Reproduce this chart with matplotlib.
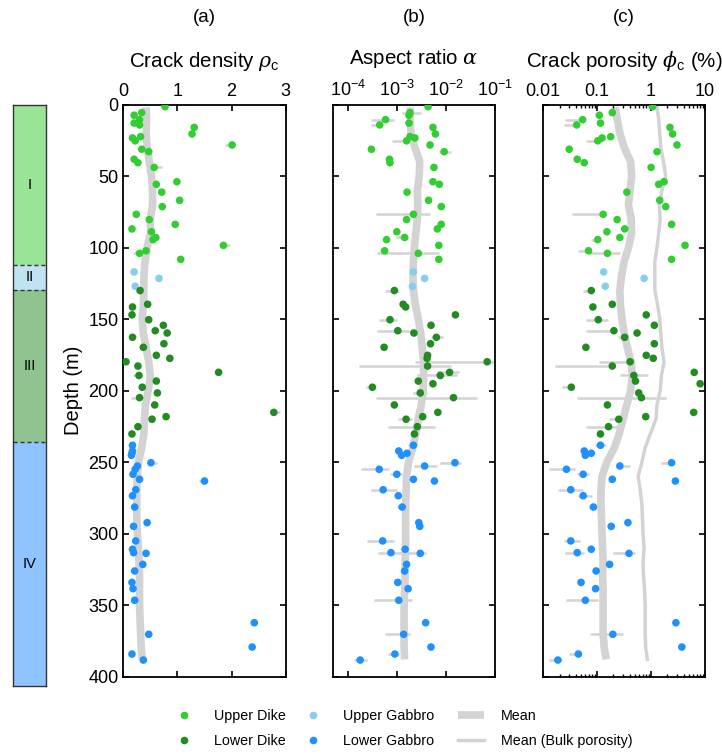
import numpy as np
import matplotlib
matplotlib.use('Agg')
import matplotlib.pyplot as plt
from matplotlib.ticker import FuncFormatter, LogFormatterSciNotation
from matplotlib.lines import Line2D

plt.rcParams['font.family'] = ['Liberation Sans', 'DejaVu Sans']
plt.rcParams['mathtext.fontset'] = 'custom'
plt.rcParams['mathtext.rm'] = 'Liberation Sans'
plt.rcParams['mathtext.sf'] = 'Liberation Sans'
plt.rcParams['mathtext.it'] = 'DejaVu Serif:italic'

# ---- samples (depth in m, unit, crack density, log10 aspect ratio, log10 crack porosity %)
depth = [1.5, 5.7, 7.5, 10.6, 13.0, 14.3, 16.0, 20.6, 22.5, 23.4, 25.4, 28.3, 31.3, 33.0,
         38.3, 40.7, 44.0, 54.0, 55.8, 61.3, 67.0, 71.4, 76.8, 80.5, 83.8, 87.0, 89.0, 93.0,
         94.5, 98.5, 102.3, 104.1, 108.3,
         117.1, 121.6, 127.1,
         130.1, 139.7, 141.6, 147.1, 150.5, 154.4, 158.2, 159.8, 162.8, 167.3, 169.8, 175.4,
         177.5, 179.9, 182.9, 187.3, 189.5, 193.4, 195.3, 197.7, 201.7, 205.0, 210.1, 215.3,
         218.3, 220.1, 225.3, 230.4,
         238.3, 242.3, 243.9, 245.3, 250.5, 252.8, 255.1, 258.6, 262.1, 263.3, 269.4, 273.6,
         281.5, 292.4, 295.0, 305.2, 311.0, 313.4, 313.9, 321.6, 326.2, 334.2, 338.6, 346.7,
         362.4, 370.5, 379.4, 384.3, 388.5]
unit = (['Upper Dike'] * 33 + ['Upper Gabbro'] * 3 + ['Lower Dike'] * 28
        + ['Lower Gabbro'] * 29)
rho = [0.77, 0.34, 0.20, 0.30, 0.20, 0.30, 1.31, 1.27, 0.32, 0.17, 0.22, 2.01, 0.34, 0.47,
       0.20, 0.27, 0.57, 0.99, 0.61, 0.71, 1.04, 0.72, 0.24, 0.48, 0.96, 0.16, 0.52, 0.60,
       0.55, 1.85, 0.42, 0.30, 1.06,
       0.20, 0.66, 0.22,
       0.31, 0.45, 0.17, 0.16, 0.47, 0.74, 0.59, 0.81, 0.17, 0.75, 0.37, 0.61,
       0.86, 0.05, 0.27, 1.76, 0.29, 0.61, np.nan, 0.35, 0.63, 0.30, 0.58, 2.78,
       0.79, 0.53, 0.27, 0.16,
       0.17, 0.17, 0.16, 0.15, 0.51, 0.26, 0.22, 0.18, 0.30, 1.50, 0.23, 0.17,
       0.21, 0.44, 0.19, 0.23, 0.17, 0.19, 0.42, 0.36, 0.21, 0.16, 0.18, 0.21,
       2.42, 0.47, 2.38, 0.16, 0.37]
log_alpha = [-2.37, -2.74, -2.76, -3.24, -2.76, -3.36, -2.27, -2.22, -2.74, -2.64, -2.81,
             -2.33, -3.53, -2.04, -3.16, -3.15, -2.25, -2.27, -2.14, -2.80, -2.36, -2.10,
             -2.67, -2.81, -2.10, -2.18, -3.01, -2.85, -3.22, -2.15, -3.26, -2.57, -2.15,
             -2.67, -2.44, -2.69,
             -3.06, -2.88, -2.83, -1.81, -3.15, -2.31, -2.99, -2.66, -2.20, -2.32, -3.27,
             -2.38, -2.39, -1.16, -2.38, -1.93, -2.12, -2.57, -2.27, -3.51, -2.53, -1.85,
             -3.06, -2.17, -2.48, -2.82, -2.59, -2.65,
             -2.67, -2.97, -2.80, -2.91, -1.82, -2.44, -3.37, -3.01, -2.67, -2.24, -3.29,
             -2.98, -2.90, -2.56, -2.54, -3.30, -2.84, -3.13, -2.53, -2.81, -2.85, -2.99,
             -2.78, -2.97, -2.42, -2.87, -2.31, -3.05, -3.76]
log_phi = [0.03, -0.72, -0.96, -1.27, -0.94, -1.38, 0.35, 0.40, -0.75, -0.91, -0.99, 0.48,
           -1.52, 0.11, -1.37, -1.24, 0.00, 0.24, 0.14, -0.45, 0.16, 0.27, -0.89, -0.63,
           0.38, -0.49, -0.82, -0.58, -0.99, 0.63, -1.16, -0.81, 0.38,
           -0.88, -0.13, -0.85,
           -1.11, -0.72, -1.08, -0.09, -0.98, 0.06, -0.69, -0.26, -0.49, 0.06, -1.21,
           -0.09, 0.04, -0.39, -0.72, 0.80, -0.32, -0.29, 0.91, -1.48, -0.23, -0.18,
           -0.81, 0.79, -0.10, -0.60, -0.79, -0.94,
           -0.94, -1.24, -1.11, -1.22, 0.38, -0.58, -1.57, -1.26, -0.72, 0.45, -1.49,
           -1.26, -1.07, -0.43, -0.74, -1.49, -1.11, -1.37, -0.41, -0.77, -1.02, -1.30,
           -1.03, -1.22, 0.46, -0.71, 0.57, -1.35, -1.73]

# ---- error ranges (sample number, low, high)
err_rho_id = [12, 17, 30, 32, 53, 58, 60, 69, 74]
err_rho_lo = [1.87, 0.55, 1.78, 0.17, 0.17, 0.15, 2.72, 0.51, 1.40]
err_rho_hi = [2.05, 0.72, 1.98, 0.30, 0.29, 0.30, 2.90, 0.62, 1.50]

err_alpha_id = [2, 4, 6, 11, 14, 23, 28, 32, 37, 41, 43, 45, 50, 51, 52, 53, 56, 57, 58,
                62, 63, 65, 69, 70, 71, 72, 75, 77, 80, 82, 88, 90, 92, 93]
err_alpha_lo = [-2.90, -3.54, -3.54, -3.10, -2.15, -3.44, -3.03, -3.41, -3.26, -3.38,
                -3.42, -2.32, -2.63, -3.78, -2.18, -2.59, -3.65, -2.67, -3.44, -2.99,
                -3.20, -2.78, -2.13, -2.66, -3.75, -3.14, -3.54, -3.01, -3.61, -3.40,
                -3.48, -3.25, -3.20, -3.89]
err_alpha_hi = [-2.52, -3.07, -3.36, -2.69, -1.91, -2.33, -2.78, -2.15, -2.97, -3.00,
                -2.69, -2.06, -0.99, -1.91, -1.74, -1.78, -3.51, -2.39, -1.36, -2.69,
                -2.22, -2.59, -1.69, -2.18, -3.17, -2.90, -3.01, -2.83, -3.06, -2.42,
                -2.69, -2.73, -2.97, -3.61]

err_phi_id = [4, 6, 11, 23, 29, 31, 32, 37, 41, 43, 45, 50, 51, 53, 56, 58, 62, 63, 65,
              69, 70, 71, 72, 75, 76, 77, 80, 82, 83, 88, 90, 92, 93]
err_phi_lo = [-1.59, -1.62, -1.21, -1.47, -1.11, -1.35, -1.16, -1.27, -1.20, -1.20, -0.61,
              -0.97, -1.79, -0.57, -1.65, -1.38, -0.78, -1.21, -1.05, 0.18, -0.65, -1.89,
              -1.38, -1.72, -1.35, -1.16, -1.62, -1.59, -0.71, -1.57, -1.13, -1.52, -1.89]
err_phi_hi = [-1.27, -1.38, -0.92, -0.89, -0.96, -1.16, -0.58, -1.11, -0.80, -0.69, -0.49,
              -0.39, -0.72, -0.05, -1.48, 0.27, -0.60, -0.52, -0.83, 0.38, -0.40, -1.41,
              -1.16, -1.27, -1.09, -1.02, -1.32, -1.24, -0.30, -0.99, -0.52, -1.30, -1.65]

# ---- running means
mean_depth = [2, 10, 20, 30, 40, 50, 60, 70, 80, 90, 100, 110, 120, 130, 140, 150, 160, 170,
              180, 190, 200, 210, 220, 230, 240, 250, 260, 270, 280, 290, 300, 310, 320, 330,
              340, 350, 360, 370, 380, 388]
rho_mean = [0.42, 0.43, 0.42, 0.44, 0.48, 0.52, 0.54, 0.54, 0.50, 0.50, 0.44, 0.40, 0.38,
            0.38, 0.37, 0.35, 0.37, 0.42, 0.47, 0.50, 0.46, 0.41, 0.39, 0.38, 0.34, 0.28,
            0.26, 0.25, 0.25, 0.25, 0.26, 0.28, 0.29, 0.30, 0.30, 0.30, 0.31, 0.32, 0.33, 0.35]
log_alpha_mean = [-2.73, -2.74, -2.72, -2.64, -2.54, -2.55, -2.59, -2.58, -2.59, -2.62,
                  -2.65, -2.67, -2.68, -2.67, -2.63, -2.57, -2.52, -2.49, -2.46, -2.46,
                  -2.47, -2.51, -2.57, -2.62, -2.68, -2.77, -2.81, -2.82, -2.83, -2.83,
                  -2.83, -2.83, -2.84, -2.84, -2.85, -2.86, -2.86, -2.86, -2.86, -2.85]
log_phi_mean = [-0.67, -0.63, -0.58, -0.50, -0.38, -0.36, -0.39, -0.42, -0.37, -0.36,
                -0.42, -0.50, -0.55, -0.58, -0.57, -0.54, -0.50, -0.44, -0.37, -0.35,
                -0.38, -0.45, -0.52, -0.59, -0.68, -0.82, -0.91, -0.93, -0.93, -0.92,
                -0.91, -0.90, -0.89, -0.90, -0.89, -0.89, -0.89, -0.89, -0.87, -0.83]
log_bulk_mean = [0.11, 0.14, 0.16, 0.18, 0.23, 0.27, 0.20, 0.15, 0.17, 0.14, 0.11, 0.07,
                 0.07, 0.07, 0.12, 0.16, 0.18, 0.20, 0.24, 0.19, 0.17, 0.11, 0.09, -0.01,
                 -0.11, -0.17, -0.24, -0.20, -0.17, -0.16, -0.15, -0.13, -0.15, -0.14,
                 -0.12, -0.11, -0.11, -0.11, -0.10, -0.07]

# ---- lithostratigraphic units
unit_names = ['I', 'II', 'III', 'IV']
unit_bounds = [0, 112, 130, 236, 407]
unit_colors = ['#98e598', '#c0e3f2', '#8fc38f', '#8ec4ff']

colors = {'Upper Dike': '#32cd32', 'Lower Dike': '#228b22',
          'Upper Gabbro': '#87ceeb', 'Lower Gabbro': '#1e90ff'}

depth = np.array(depth)
unit = np.array(unit)
alpha = 10 ** np.array(log_alpha)
phi = 10 ** np.array(log_phi)
rho = np.array(rho)

W, H = 722, 754
fig = plt.figure(figsize=(W / 100, H / 100), dpi=100)


def add_ax(x0, y0, x1, y1):
    return fig.add_axes([x0 / W, 1 - y1 / H, (x1 - x0) / W, (y1 - y0) / H])


ax_a = add_ax(123.3, 104.5, 285.7, 676.5)
ax_b = add_ax(333.3, 104.5, 495.0, 676.5)
ax_c = add_ax(543.3, 104.5, 705.0, 676.5)
col = add_ax(12.7, 104.5, 46.0, 686.0)

gray = '#d3d3d3'
panels = [
    (ax_a, rho, np.array(rho_mean), err_rho_id, err_rho_lo, err_rho_hi, False),
    (ax_b, alpha, 10 ** np.array(log_alpha_mean), err_alpha_id, err_alpha_lo, err_alpha_hi, True),
    (ax_c, phi, 10 ** np.array(log_phi_mean), err_phi_id, err_phi_lo, err_phi_hi, True),
]

for ax, vals, mean_vals, eid, elo, ehi, is_log in panels:
    eid = np.array(eid) - 1
    lo = 10 ** np.array(elo) if is_log else np.array(elo)
    hi = 10 ** np.array(ehi) if is_log else np.array(ehi)
    ax.hlines(depth[eid], lo, hi, color=gray, lw=1.8, zorder=1)
    ax.plot(mean_vals, mean_depth, color=gray, lw=5.5, solid_capstyle='butt', zorder=1)
    for name in ['Upper Dike', 'Upper Gabbro', 'Lower Dike', 'Lower Gabbro']:
        m = unit == name
        ax.scatter(vals[m], depth[m], s=30, color=colors[name], edgecolors='none', zorder=3)

ax_c.plot(10 ** np.array(log_bulk_mean), mean_depth, color=gray, lw=2.5, zorder=1)

ax_a.set_xlim(0, 3)
ax_a.set_xticks([0, 1, 2, 3])
ax_b.set_xscale('log')
ax_b.set_xlim(10 ** -4.31, 10 ** -1.0)
ax_b.set_xticks([1e-4, 1e-3, 1e-2, 1e-1])
ax_b.xaxis.set_major_formatter(LogFormatterSciNotation())
ax_c.set_xscale('log')
ax_c.set_xlim(0.01, 10)
ax_c.set_xticks([0.01, 0.1, 1, 10])
ax_c.xaxis.set_major_formatter(FuncFormatter(lambda v, p: f'{v:g}'))

titles = [r'Crack density $\rho_\mathrm{c}$', r'Aspect ratio $\alpha$',
          r'Crack porosity $\phi_\mathrm{c}$ (%)']
for ax, t, tag in zip([ax_a, ax_b, ax_c], titles, ['(a)', '(b)', '(c)']):
    ax.set_ylim(400, 0)
    ax.set_yticks(np.arange(0, 401, 50))
    ax.tick_params(which='both', direction='in', top=True, bottom=True, left=True,
                   right=True, labeltop=True, labelbottom=False, labelsize=13,
                   width=1.2, pad=3.5)
    ax.tick_params(which='major', length=4.5)
    ax.tick_params(which='minor', length=2.5, width=1)
    ax.xaxis.set_label_position('top')
    ax.set_xlabel(t, fontsize=14.8, labelpad=11)
    for s in ax.spines.values():
        s.set_linewidth(1.3)
    pos = ax.get_position()
    fig.text((pos.x0 + pos.x1) / 2, 1 - 18 / H, tag, ha='center', va='center', fontsize=13.5)

ax_b.tick_params(labelleft=False)
ax_c.tick_params(labelleft=False)
ax_a.set_ylabel('Depth (m)', fontsize=14.5, labelpad=4)

# stratigraphic column
col.set_xlim(0, 1)
col.set_ylim(unit_bounds[-1], unit_bounds[0])
for i, name in enumerate(unit_names):
    top, bot = unit_bounds[i], unit_bounds[i + 1]
    col.axhspan(top, bot, color=unit_colors[i], lw=0)
    col.text(0.5, (top + bot) / 2, name, ha='center', va='center', fontsize=10.5)
col.hlines(unit_bounds[1:-1], 0, 1, colors='#333333', linestyles=(0, (3, 2)), lw=1)
col.set_xticks([])
col.set_yticks([])
for s in col.spines.values():
    s.set_color('#333333')
    s.set_linewidth(1)


def dot(c):
    return Line2D([], [], ls='none', marker='o', ms=5.5, mec='none', color=c)


legend_cols = [
    (171.5, [dot(colors['Upper Dike']), dot(colors['Lower Dike'])], ['Upper Dike', 'Lower Dike']),
    (300.5, [dot(colors['Upper Gabbro']), dot(colors['Lower Gabbro'])],
     ['Upper Gabbro', 'Lower Gabbro']),
    (458.0, [Line2D([], [], color=gray, lw=5.5, solid_capstyle='butt'),
             Line2D([], [], color=gray, lw=2.5)], ['Mean', 'Mean (Bulk porosity)']),
]
for x_left, hs, ls in legend_cols:
    fig.legend(hs, ls, loc='center left', bbox_to_anchor=(x_left / W, 1 - 728.5 / H),
               frameon=False, fontsize=10.3, handlelength=1.8, handletextpad=1.2,
               labelspacing=0.8, borderpad=0, borderaxespad=0)

fig.savefig('out.png', dpi=100)
